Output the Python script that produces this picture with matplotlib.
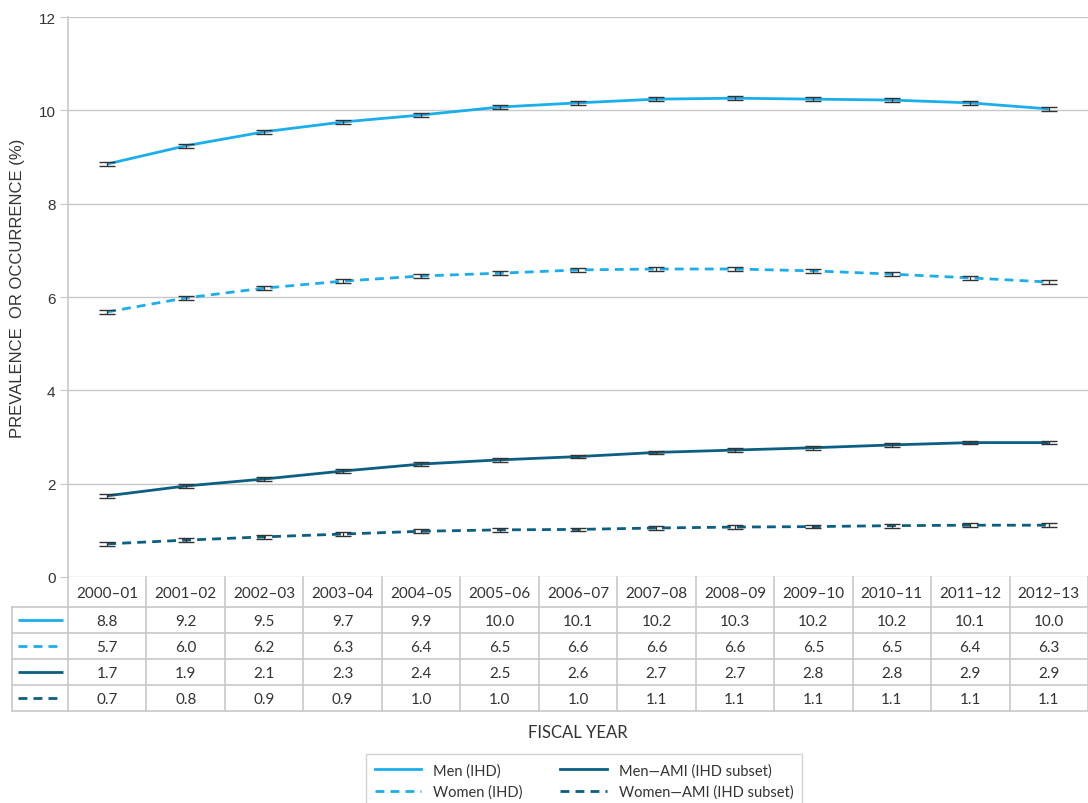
import numpy as np
import matplotlib
matplotlib.use("Agg")
import matplotlib.pyplot as plt
from matplotlib.lines import Line2D

plt.rcParams['font.family'] = ['Lato', 'DejaVu Sans']
axis_font = ['Liberation Sans', 'DejaVu Sans']

years = ['2000–01', '2001–02', '2002–03', '2003–04', '2004–05', '2005–06', '2006–07',
         '2007–08', '2008–09', '2009–10', '2010–11', '2011–12', '2012–13']

# plotted values
men_ihd = [8.85, 9.24, 9.54, 9.75, 9.90, 10.07, 10.16, 10.24, 10.26, 10.24, 10.22, 10.16, 10.03]
women_ihd = [5.68, 5.98, 6.19, 6.34, 6.45, 6.51, 6.58, 6.60, 6.60, 6.56, 6.49, 6.41, 6.32]
men_ami = [1.74, 1.95, 2.10, 2.27, 2.42, 2.51, 2.58, 2.67, 2.72, 2.77, 2.83, 2.88, 2.88]
women_ami = [0.71, 0.79, 0.86, 0.92, 0.98, 1.01, 1.02, 1.05, 1.07, 1.08, 1.10, 1.11, 1.11]
err = 0.04

# table labels
men_ihd_lbl = ['8.8', '9.2', '9.5', '9.7', '9.9', '10.0', '10.1', '10.2', '10.3', '10.2', '10.2', '10.1', '10.0']
women_ihd_lbl = ['5.7', '6.0', '6.2', '6.3', '6.4', '6.5', '6.6', '6.6', '6.6', '6.5', '6.5', '6.4', '6.3']
men_ami_lbl = ['1.7', '1.9', '2.1', '2.3', '2.4', '2.5', '2.6', '2.7', '2.7', '2.8', '2.8', '2.9', '2.9']
women_ami_lbl = ['0.7', '0.8', '0.9', '0.9', '1.0', '1.0', '1.0', '1.1', '1.1', '1.1', '1.1', '1.1', '1.1']

light = '#1aaeea'
dark = '#0b5f82'
grid_c = '#c8c8c8'
txt_c = '#333333'

series = [
    ('Men (IHD)', men_ihd, men_ihd_lbl, light, '-'),
    ('Women (IHD)', women_ihd, women_ihd_lbl, light, (0, (3.2, 2.2))),
    ('Men—AMI (IHD subset)', men_ami, men_ami_lbl, dark, '-'),
    ('Women—AMI (IHD subset)', women_ami, women_ami_lbl, dark, (0, (3.2, 2.2))),
]

W, H = 1088, 804
fig = plt.figure(figsize=(W / 100, H / 100), dpi=100)

# main axes, pixel layout
x0, x1, ytop, ybot = 68, 1088, 18, 578
ax = fig.add_axes([x0 / W, 1 - ybot / H, (x1 - x0) / W, (ybot - ytop) / H])
x = np.arange(len(years))
for name, vals, _, col, ls in series:
    ax.plot(x, vals, color=col, lw=2.0, ls=ls, zorder=3, solid_capstyle='butt')
    ax.errorbar(x, vals, yerr=err, fmt='none', ecolor='#333333', elinewidth=0.9,
                capsize=6, capthick=1.0, zorder=4)

ax.set_xlim(-0.5, len(years) - 0.5)
ax.set_ylim(0, 12)
ax.set_yticks(range(0, 13, 2))
ax.yaxis.grid(True, color=grid_c, lw=1)
ax.set_axisbelow(True)
ax.set_xticks([])
for s in ['top', 'right', 'bottom']:
    ax.spines[s].set_visible(False)
ax.spines['left'].set_color(grid_c)
ax.spines['left'].set_linewidth(1.2)
ax.tick_params(axis='y', length=6, color=grid_c, labelsize=11, labelcolor=txt_c, pad=3)
for t in ax.get_yticklabels():
    t.set_family(axis_font)
ax.set_ylabel('PREVALENCE  OR OCCURRENCE (%)', fontsize=12, color=txt_c, family=axis_font)
ax.yaxis.set_label_coords((18 - x0) / (x1 - x0), (ybot - 288) / (ybot - ytop))
ax.yaxis.label.set_va('center')

# data table below the plot
tx0, hdr_bot, row_h = 12, 608, 26
nrows = len(series)
tab_bot = hdr_bot + nrows * row_h
tax = fig.add_axes([tx0 / W, 1 - tab_bot / H, (x1 - tx0) / W, (tab_bot - ybot) / H])
colw = (x1 - x0) / len(years)
lead = (x0 - tx0) / colw
tax.set_xlim(-0.5 - lead, len(years) - 0.5)
tax.set_ylim(tab_bot, ybot)
tax.axis('off')

lkw = dict(color=grid_c, lw=1.2, clip_on=False)
# vertical lines
for i in range(len(years) + 1):
    tax.plot([i - 0.5, i - 0.5], [ybot, tab_bot], **lkw)
tax.plot([-0.5 - lead, -0.5 - lead], [hdr_bot, tab_bot], **lkw)
# horizontal lines
for r in range(nrows + 1):
    yy = hdr_bot + r * row_h
    tax.plot([-0.5 - lead, len(years) - 0.5], [yy, yy], **lkw)

for i, yr in enumerate(years):
    tax.text(i, (ybot + hdr_bot) / 2 + 1, yr, ha='center', va='center', fontsize=11, color=txt_c)
for r, (name, vals, lbls, col, ls) in enumerate(series):
    yc = hdr_bot + (r + 0.5) * row_h
    tax.plot([-0.5 - lead + 0.08, -0.5 - 0.06], [yc, yc], color=col, lw=2.0, ls=ls,
             solid_capstyle='butt', clip_on=False)
    for i, lb in enumerate(lbls):
        tax.text(i, yc + 1, lb, ha='center', va='center', fontsize=11, color=txt_c)

fig.text((x0 + x1) / 2 / W, 1 - 733 / H, 'FISCAL YEAR', ha='center', va='center',
         fontsize=12, color=txt_c)

handles = [Line2D([], [], color=col, lw=2.0, ls=ls) for _, _, _, col, ls in series]
labels = [s[0] for s in series]
leg = fig.legend(handles, labels, ncol=2, loc='upper center',
                 bbox_to_anchor=(584 / W, 1 - 748 / H), frameon=True, fancybox=False,
                 fontsize=10.5, handlelength=3.2, columnspacing=2.6, labelspacing=0.5,
                 borderpad=0.6)
leg.get_frame().set_edgecolor(grid_c)
leg.get_frame().set_linewidth(1.0)
for t in leg.get_texts():
    t.set_color(txt_c)

fig.savefig('out.png', dpi=100)
